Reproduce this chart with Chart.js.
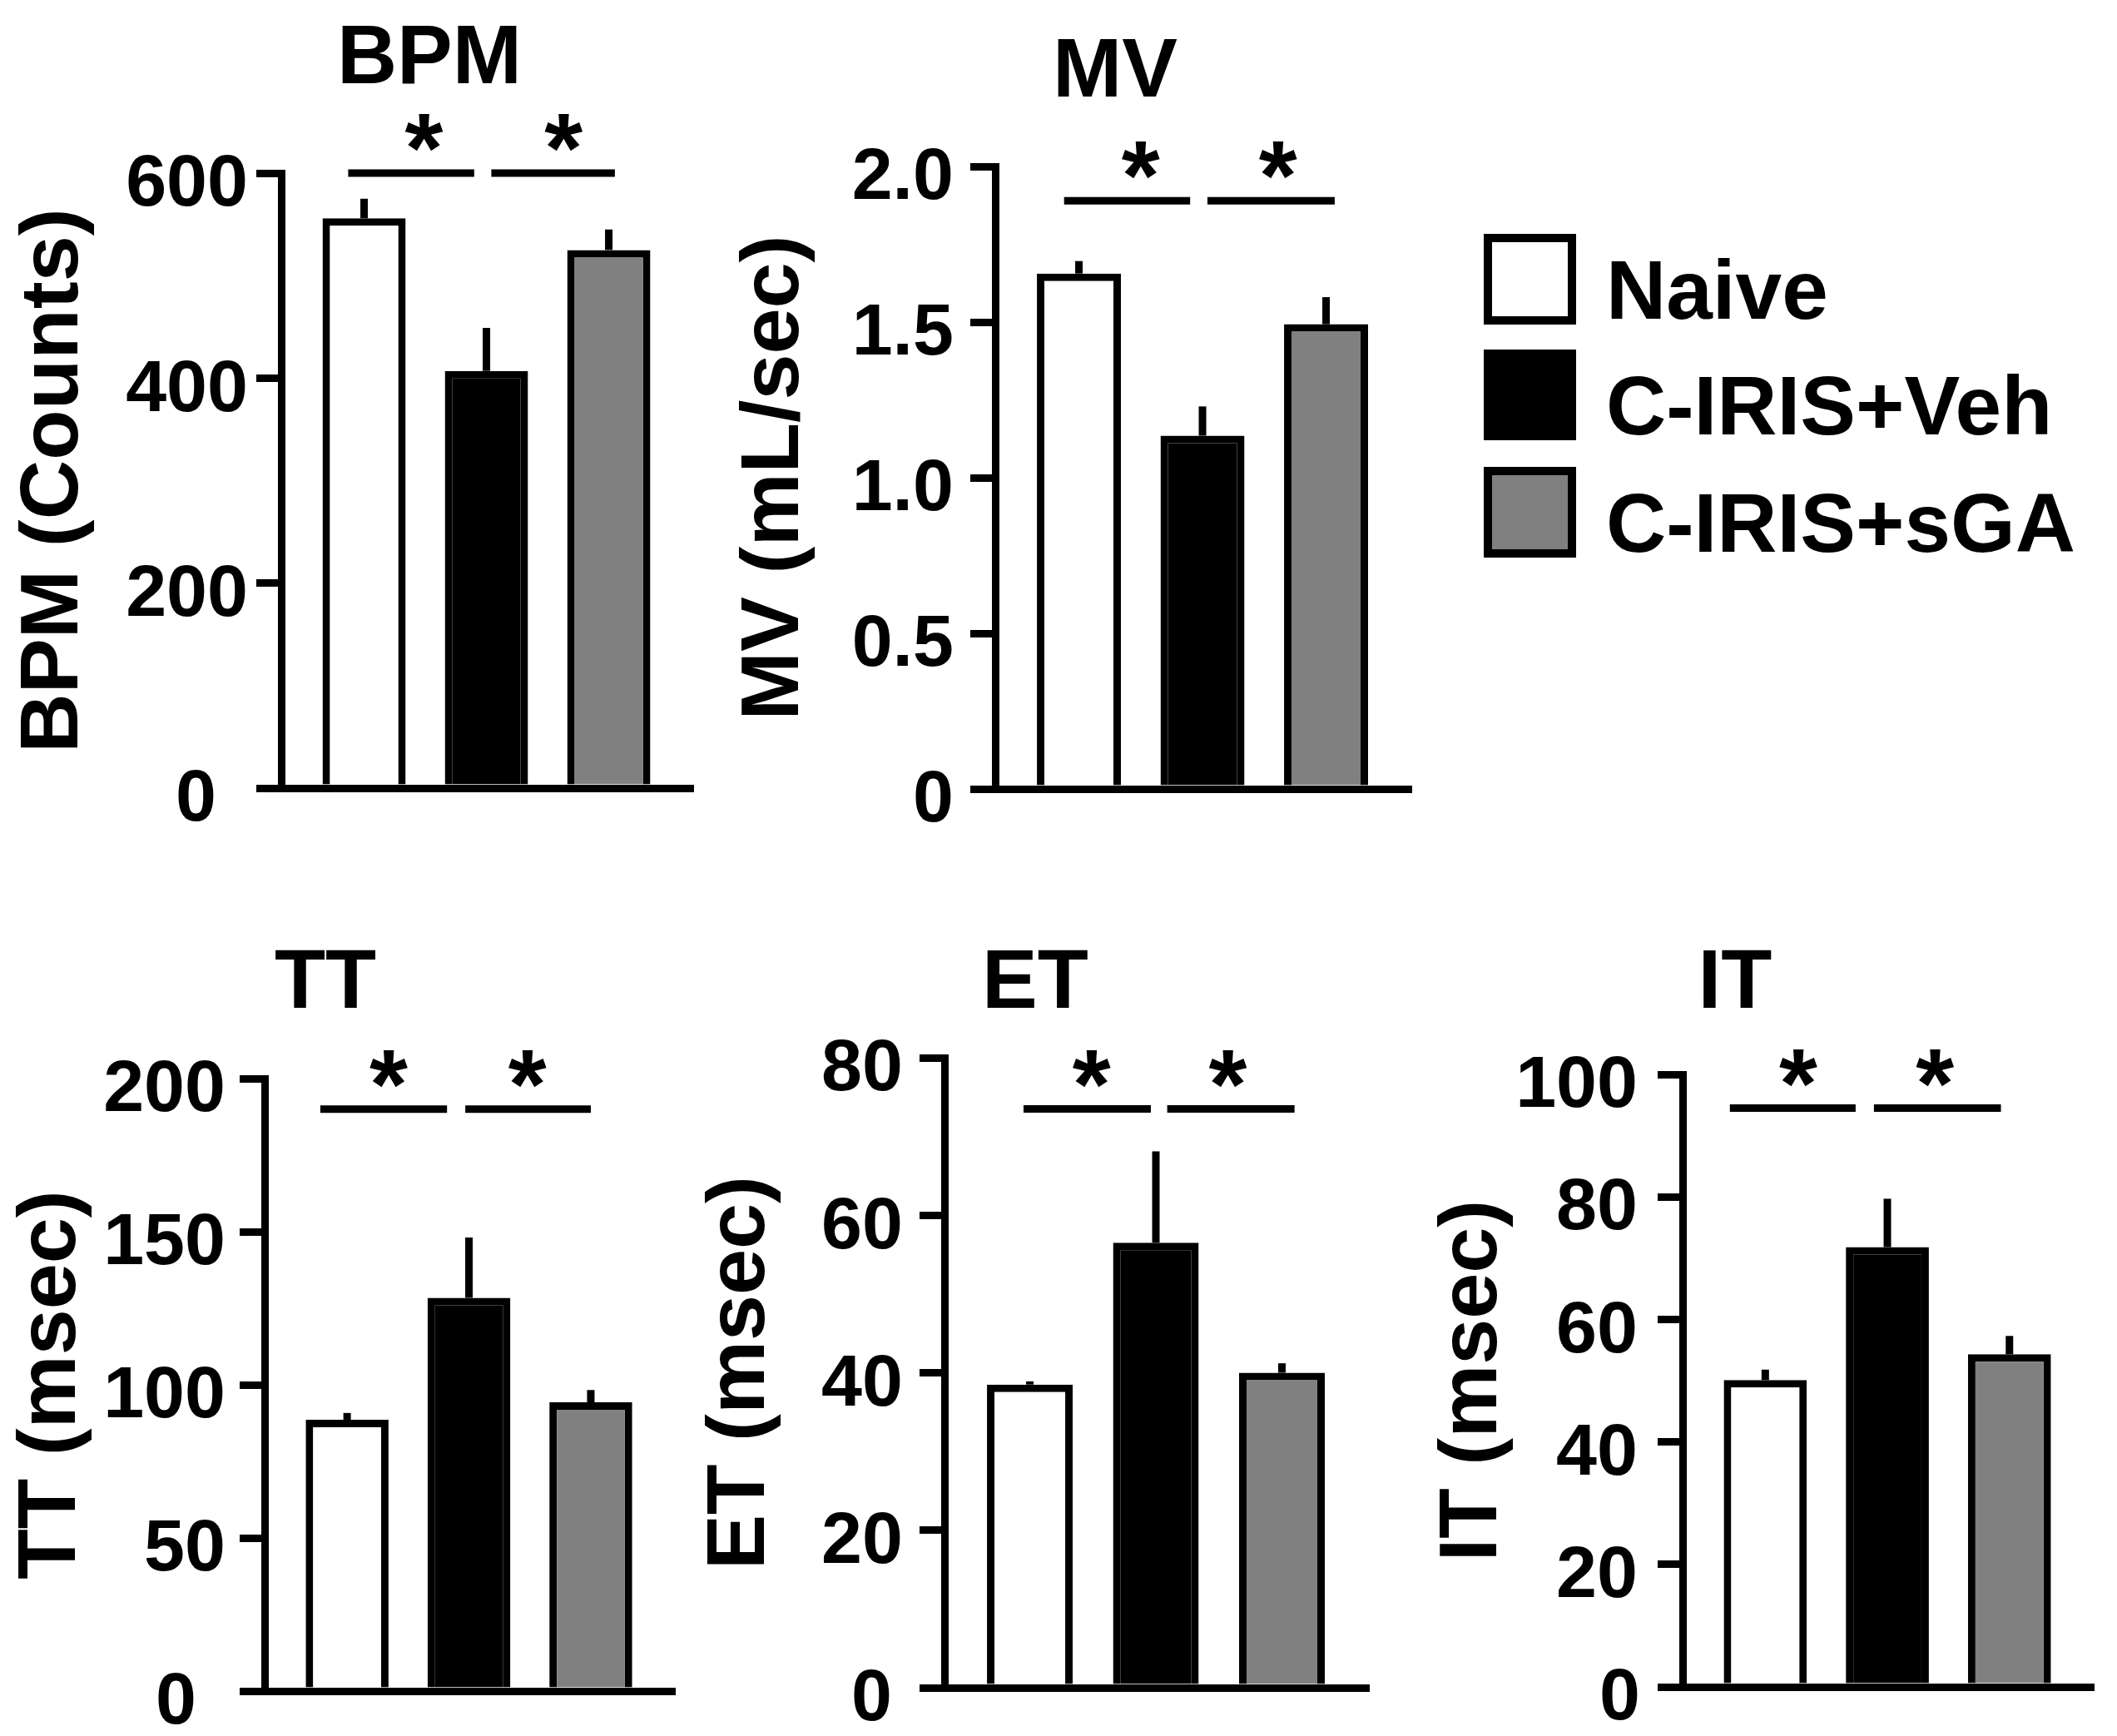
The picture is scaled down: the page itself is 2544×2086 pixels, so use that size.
<!DOCTYPE html>
<html>
<head>
<meta charset="utf-8">
<script src="https://cdn.jsdelivr.net/npm/chart.js@4.4.1/dist/chart.umd.min.js"></script>
<style>
html,body{margin:0;padding:0;background:#fff;}
#page{position:relative;width:2544px;height:2086px;overflow:hidden;background:#fff;font-family:"Liberation Sans",Arial,sans-serif;}
#page canvas{position:absolute;}
.leg{position:absolute;left:1783px;height:109px;display:flex;align-items:center;}
.sw{width:111px;height:109px;box-sizing:border-box;border:10px solid #000;flex:none;}
.lt{font-weight:bold;font-size:100px;line-height:1;margin-left:36px;padding-top:24px;color:#000;white-space:nowrap;}
</style>
</head>
<body>
<div id="page"></div>
<script>
// ---------------- data ----------------
const groups = ['Naive', 'C-IRIS+Veh', 'C-IRIS+sGA'];
const groupColors = ['#ffffff', '#000000', '#808080'];

const bpmMean = [556, 407, 525];
const bpmSem  = [19, 42, 20];
const mvMean  = [1.656, 1.135, 1.493];
const mvSem   = [0.04, 0.094, 0.087];
const ttMean  = [88.6, 128.4, 94.3];
const ttSem   = [2.2, 19.7, 4.0];
const etMean  = [38.5, 56.5, 40.0];
const etSem   = [0.4, 11.6, 1.2];
const itMean  = [50.1, 71.8, 54.3];
const itSem   = [1.7, 7.9, 3.0];

const bpmTicks = ['0', '200', '400', '600'];
const mvTicks  = ['0', '0.5', '1.0', '1.5', '2.0'];
const ttTicks  = ['0', '50', '100', '150', '200'];
const etTicks  = ['0', '20', '40', '60', '80'];
const itTicks  = ['0', '20', '40', '60', '80', '100'];

// significance bars (y in data units, x in group-index units) and stars
const bpmSig = {y: 600,  lines: [[0.87, 1.90], [2.04, 3.05]], stars: [1.49, 2.63]};
const mvSig  = {y: 1.89, lines: [[0.88, 1.90], [2.04, 3.07]], stars: [1.50, 2.61]};
const ttSig  = {y: 190,  lines: [[0.78, 1.82], [1.97, 3.00]], stars: [1.34, 2.48]};
const etSig  = {y: 73.5, lines: [[0.95, 1.96], [2.09, 3.10]], stars: [1.49, 2.57]};
const itSig  = {y: 94.5, lines: [[0.71, 1.74], [1.89, 2.93]], stars: [1.27, 2.39]};

// ---------------- layout / style ----------------
const FONT = '"Liberation Sans", Arial, sans-serif';
const TICK_SIZE = 88, TITLE_SIZE = 100, YTITLE_SIZE = 99, STAR_SIZE = 118;
const LINE_W = 9;

const panels = [
  {title: 'BPM', yTitle: 'BPM (Counts)', mean: bpmMean, sem: bpmSem, ticks: bpmTicks, sig: bpmSig,
   box: {left: 6, top: 0, width: 900, height: 1040}, area: {left: 338, right: 833, top: 208, bottom: 947},
   titlePos: {x: 516, y: 64}, tickPad: 10, zeroDx: -38},
  {title: 'MV', yTitle: 'MV (mL/sec)', mean: mvMean, sem: mvSem, ticks: mvTicks, sig: mvSig,
   box: {left: 872, top: 0, width: 900, height: 1040}, area: {left: 1196, right: 1696, top: 200, bottom: 948},
   titlePos: {x: 1340, y: 80}, tickPad: 20, zeroDx: 0},
  {title: 'TT', yTitle: 'TT (msec)', mean: ttMean, sem: ttSem, ticks: ttTicks, sig: ttSig,
   box: {left: 3, top: 1090, width: 880, height: 1050}, area: {left: 318, right: 811, top: 1296, bottom: 2032},
   titlePos: {x: 391, y: 1175}, tickPad: 17, zeroDx: -35},
  {title: 'ET', yTitle: 'ET (msec)', mean: etMean, sem: etSem, ticks: etTicks, sig: etSig,
   box: {left: 831, top: 1090, width: 880, height: 1050}, area: {left: 1135, right: 1645, top: 1271, bottom: 2028},
   titlePos: {x: 1244, y: 1175}, tickPad: 20, zeroDx: -13},
  {title: 'IT', yTitle: 'IT (msec)', mean: itMean, sem: itSem, ticks: itTicks, sig: itSig,
   box: {left: 1711, top: 1090, width: 833, height: 1050}, area: {left: 2022, right: 2516, top: 1291, bottom: 2027},
   titlePos: {x: 2085, y: 1175}, tickPad: 24, zeroDx: 3}
];

const legendTops = [281, 420, 561];

// ---------------- plugin: error bars, significance, titles ----------------
const annotPlugin = {
  id: 'panelAnnot',
  afterDatasetsDraw(chart, args, o) {
    const ctx = chart.ctx, ys = chart.scales.y;
    const meta = chart.getDatasetMeta(0);
    const ds = chart.data.datasets[0];
    ctx.save();
    ctx.strokeStyle = '#000';
    ctx.lineWidth = o.errWidth;
    ctx.lineCap = 'butt';
    meta.data.forEach((bar, i) => {
      const m = ds.data[i].y, e = o.sem[i];
      ctx.beginPath();
      ctx.moveTo(bar.x, ys.getPixelForValue(m));
      ctx.lineTo(bar.x, ys.getPixelForValue(m + e));
      ctx.stroke();
    });
    ctx.restore();
  },
  afterDraw(chart, args, o) {
    const ctx = chart.ctx, xs = chart.scales.x, ys = chart.scales.y;
    ctx.save();
    const sy = ys.getPixelForValue(o.sig.y);
    ctx.strokeStyle = '#000';
    ctx.lineWidth = o.lineWidth;
    ctx.lineCap = 'butt';
    o.sig.lines.forEach(([a, b]) => {
      ctx.beginPath();
      ctx.moveTo(xs.getPixelForValue(a), sy);
      ctx.lineTo(xs.getPixelForValue(b), sy);
      ctx.stroke();
    });
    ctx.fillStyle = '#000';
    ctx.textAlign = 'center';
    ctx.textBaseline = 'alphabetic';
    ctx.font = 'bold ' + o.starSize + 'px ' + FONT;
    o.sig.stars.forEach(sx => {
      ctx.fillText('*', xs.getPixelForValue(sx), sy - o.starLift + 0.553 * o.starSize);
    });
    ctx.font = 'bold ' + o.titleSize + 'px ' + FONT;
    ctx.fillText(o.title, o.titleX, o.titleY + 0.358 * o.titleSize);
    ctx.font = 'bold ' + o.tickSize + 'px ' + FONT;
    ctx.textAlign = 'right';
    ctx.textBaseline = 'middle';
    ctx.fillText(o.zeroLabel, ys.left + ys.width - o.tickLen - o.tickPad + o.zeroDx,
                 ys.getPixelForValue(0) + o.labelOffset);
    ctx.restore();
  }
};

// ---------------- build ----------------
const page = document.getElementById('page');

panels.forEach(p => {
  const B = p.box, A = p.area;
  const cv = document.createElement('canvas');
  cv.width = B.width; cv.height = B.height;
  cv.style.left = B.left + 'px'; cv.style.top = B.top + 'px';
  cv.style.width = B.width + 'px'; cv.style.height = B.height + 'px';
  page.appendChild(cv);

  new Chart(cv, {
    type: 'bar',
    data: {
      datasets: [{
        label: p.title,
        data: p.mean.map((v, i) => ({x: i + 1, y: v})),
        backgroundColor: groupColors,
        borderColor: '#000000',
        borderWidth: LINE_W,
        borderSkipped: 'start',
        barPercentage: 0.68,
        categoryPercentage: 1.0
      }]
    },
    options: {
      responsive: false,
      animation: false,
      devicePixelRatio: 1,
      events: [],
      layout: {padding: {
        left: 0,
        top: A.top - B.top,
        right: B.left + B.width - A.right,
        bottom: B.top + B.height - A.bottom
      }},
      scales: {
        x: {
          type: 'linear', min: 0.323, max: 3.69, offset: false, bounds: 'data',
          afterBuildTicks: s => { s.ticks = groups.map((g, i) => ({value: i + 1})); },
          afterFit: s => { s.height = 0; },
          ticks: {display: false},
          grid: {display: false, offset: false},
          border: {display: true, color: '#000', width: LINE_W}
        },
        y: {
          min: 0, max: parseFloat(p.ticks[p.ticks.length - 1]),
          afterBuildTicks: s => { s.ticks = p.ticks.map(t => ({value: parseFloat(t)})); },
          afterFit: s => { s.width = A.left - B.left; },
          ticks: {
            callback: (v, i) => (i === 0 ? '' : p.ticks[i]),
            font: {family: FONT, weight: 'bold', size: TICK_SIZE},
            color: '#000', padding: p.tickPad, labelOffset: 15
          },
          grid: {drawOnChartArea: false, color: '#000', tickColor: '#000', tickLength: 30, tickWidth: LINE_W, lineWidth: LINE_W},
          border: {display: true, color: '#000', width: LINE_W},
          title: {display: true, text: p.yTitle, color: '#000', padding: 0,
                  font: {family: FONT, weight: 'bold', size: YTITLE_SIZE}}
        }
      },
      plugins: {
        legend: {display: false},
        tooltip: {enabled: false},
        panelAnnot: {
          sem: p.sem, sig: p.sig, errWidth: LINE_W, lineWidth: LINE_W,
          starSize: STAR_SIZE, starLift: 54,
          title: p.title, titleSize: TITLE_SIZE,
          titleX: p.titlePos.x - B.left, titleY: p.titlePos.y - B.top,
          zeroLabel: p.ticks[0], zeroDx: p.zeroDx,
          tickSize: TICK_SIZE, tickLen: 30, tickPad: p.tickPad, labelOffset: 15
        }
      }
    },
    plugins: [annotPlugin]
  });
});

// ---------------- legend ----------------
groups.forEach((g, i) => {
  const row = document.createElement('div');
  row.className = 'leg';
  row.style.top = legendTops[i] + 'px';
  const sw = document.createElement('div');
  sw.className = 'sw';
  sw.style.background = groupColors[i];
  const t = document.createElement('span');
  t.className = 'lt';
  t.textContent = g;
  row.appendChild(sw); row.appendChild(t);
  page.appendChild(row);
});
</script>
</body>
</html>
